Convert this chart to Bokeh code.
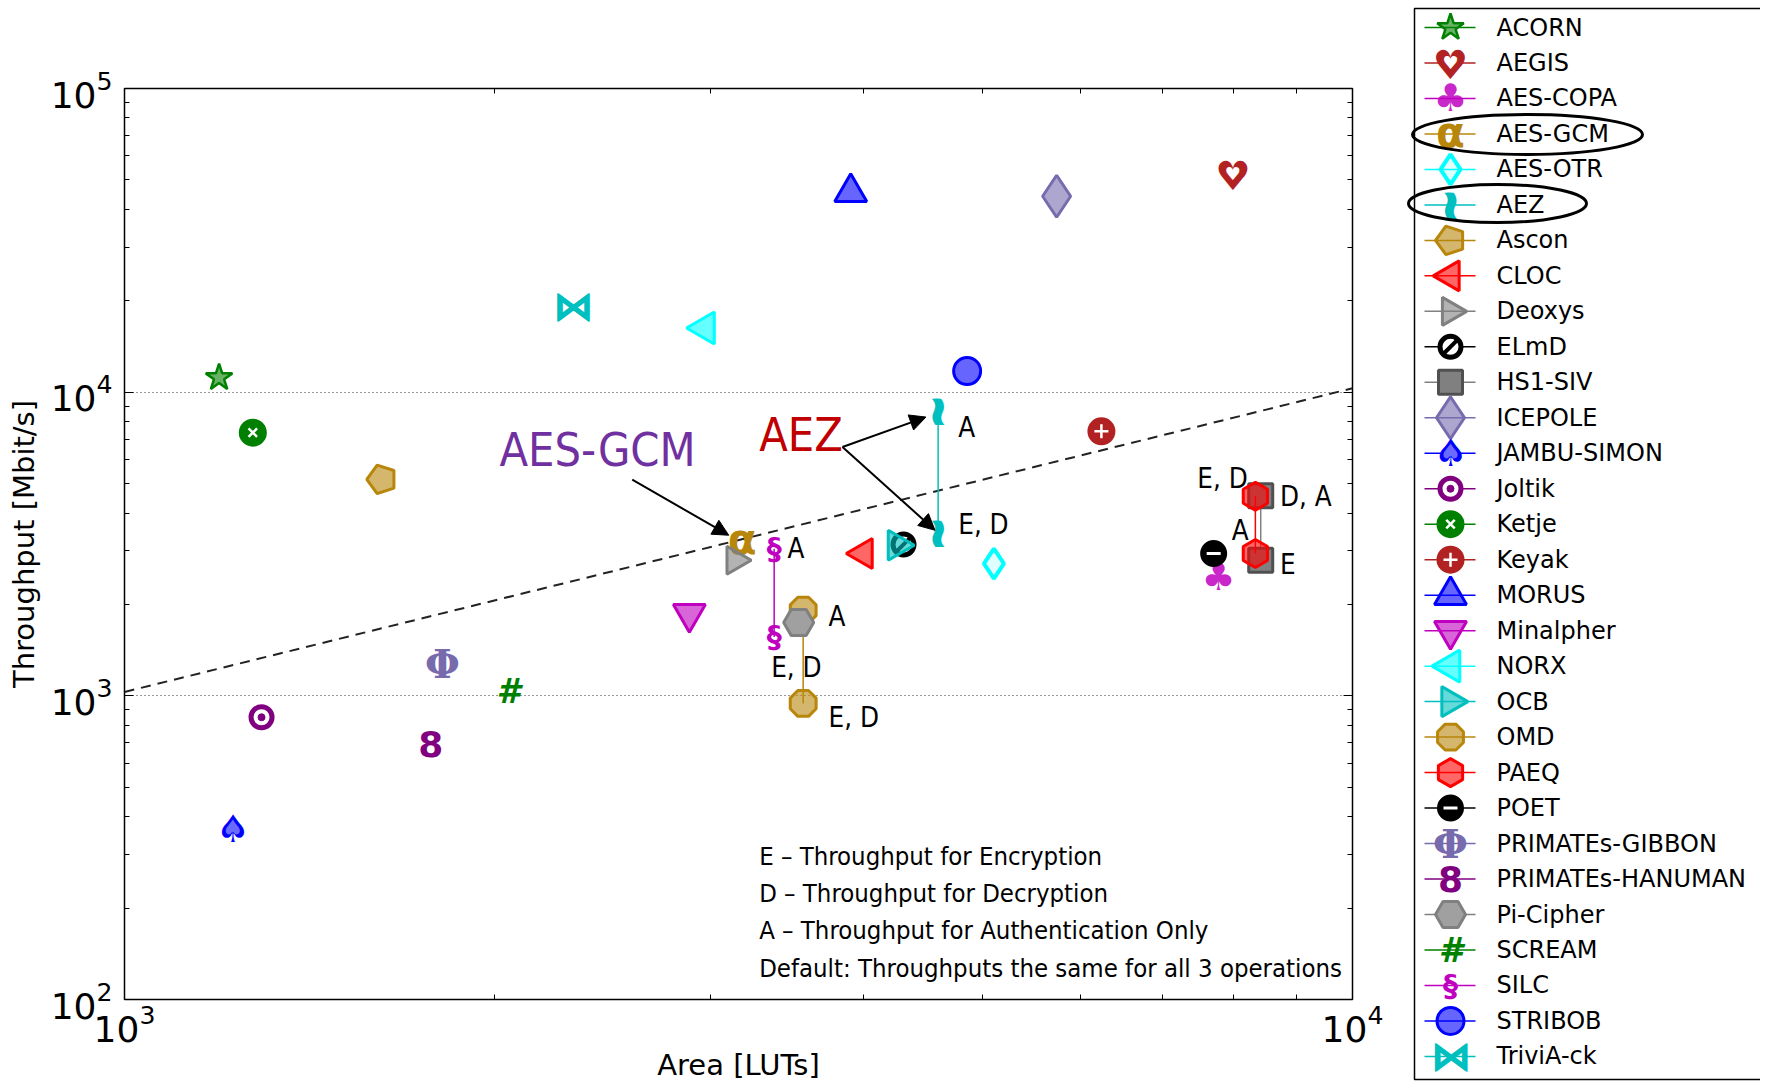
import numpy as np
import bokeh.models as bm
from bokeh.plotting import figure
from bokeh.models import (Range1d, FixedTicker, LogTickFormatter, LogAxis, Arrow,
                          NormalHead)
from bokeh.layouts import row
from bokeh.core.properties import value
from bokeh.embed import file_html
from bokeh.resources import INLINE

# ------------------------------------------------------------------ data
schemes = ["ACORN", "AEGIS", "AES-COPA", "AES-GCM", "AES-OTR", "AEZ", "Ascon", "CLOC",
           "Deoxys", "ELmD", "HS1-SIV", "ICEPOLE", "JAMBU-SIMON", "Joltik", "Ketje",
           "Keyak", "MORUS", "Minalpher", "NORX", "OCB", "OMD", "PAEQ", "POET",
           "PRIMATEs-GIBBON", "PRIMATEs-HANUMAN", "Pi-Cipher", "SCREAM", "SILC",
           "STRIBOB", "TriviA-ck"]
area_luts = [1194, 7990, 7778, 3184, 5105, 4598, 1620, 3998,
             3142, 4309, 8419, 5742, 1225, 1293, 1272,
             6245, 3903, 2884, 2970, 4256, 3570, 8335, 7708,
             1815, 1776, 3540, 2054, 3381,
             4855, 2317]
throughput = [11160, 52360, 2464, 3253, 2727, 8670, 5164, 2942,
              2796, 3150, 4560, 44180, 363, 850, 7357,
              7430, 45530, 1862, 16270, 3133, 1914, 4541, 2942,
              1280, 693, 1744, 1039, 3050,
              11733, 19200]
# schemes whose throughput differs between operations: second operating point
split_schemes = ["AEZ", "HS1-SIV", "OMD", "PAEQ", "SILC"]
split_throughput = [3439, 2796, 944, 2942, 1563]

# operation labels next to the points
op_labels = ["A", "E, D", "A", "E, D", "A", "E, D", "E, D", "D, A", "A", "E"]
op_label_area = [4775, 4775, 3467, 3362, 3744, 3744, 7476, 8730, 7974, 8730]
op_label_tp = [7211, 3465, 2889, 1169, 1730, 801, 4898, 4296, 3297, 2559]

# reference line (throughput proportional to area)
ref_area = [1000, 10000]
ref_tp = [1030, 10300]

# call-outs
callout_text = ["AES-GCM", "AEZ"]
callout_area = [2020, 3287]
callout_tp = [5700, 6401]
callout_color = ["#7030A0", "#C00000"]
arrow_start_area = [2591, 3843, 3843]
arrow_start_tp = [5154, 6597, 6597]
arrow_end_area = [3105, 4494, 4571]
arrow_end_tp = [3380, 8279, 3510]

notes = ["E \u2013 Throughput for Encryption",
         "D \u2013 Throughput for Decryption",
         "A \u2013 Throughput for Authentication Only",
         "Default: Throughputs the same for all 3 operations"]
notes_area = [3287, 3287, 3287, 3287]
notes_tp = [281.5, 212.7, 160.7, 120.5]

x_ticks = [1e3, 1e4]
x_minor = [2e3, 3e3, 4e3, 5e3, 6e3, 7e3, 8e3, 9e3]
y_ticks = [1e2, 1e3, 1e4, 1e5]
y_minor = [m * d for d in (1e2, 1e3, 1e4) for m in range(2, 10)]

# ------------------------------------------------------------------ styles
M = "#BF00BF"; C = "#00BFBF"; DG = "#B8860B"; FB = "#B22222"; SL = "#776BAE"
NARROW = "DejaVu Sans Condensed"
HAS_NGON = hasattr(bm, "Ngon")


def sc(marker, color, size, fill=None, fa=0.6, lw=3, angle=0.0):
    return ("scatter", dict(marker=marker, size=size, line_color=color,
                            fill_color=fill if fill is not None else color,
                            fill_alpha=fa, line_width=lw, angle=angle))


def tx(ch, color, fs, font="DejaVu Sans", style="bold", alpha=1.0, dy=0, dx=0):
    return ("text", dict(ch=ch, color=color, fs=fs, font=font, style=style,
                         alpha=alpha, dy=dy, dx=dx))


def ng(n, color, r, angle=0.0, fa=0.6):
    return ("ngon", dict(n=n, color=color, r=r, angle=angle, fa=fa))


STY = {
    "ACORN": [sc("star", "green", 28, lw=2.5)],
    "AEGIS": [tx("\u2665", FB, 40, dy=2), tx("\u2665", "white", 18, dy=0)],
    "AES-COPA": [tx("\u2663", M, 38, alpha=0.85)],
    "AES-GCM": [tx("\u03b1", DG, 42, dy=-1)],
    "AES-OTR": [sc("diamond", "cyan", 30, fa=0.12, lw=4)],
    "AEZ": [tx("\u2240", C, 42, dx=-2), tx("\u2240", C, 42, dx=0),
            tx("\u2240", C, 42, dx=2)],
    "Ascon": [ng(5, DG, 15, angle=np.pi / 2)],
    "CLOC": [sc("triangle", "red", 30, angle=np.pi / 2)],
    "Deoxys": [sc("triangle", "gray", 28, angle=-np.pi / 2)],
    "ELmD": [sc("circle", "black", 21, fill="white", fa=1, lw=5),
             sc("dash", "black", 21, lw=4, angle=np.pi / 4)],
    "HS1-SIV": [sc("square", "#505050", 24, fill="#808080", fa=1)],
    "ICEPOLE": [sc("diamond", SL, 42)],
    "JAMBU-SIMON": [tx("\u2660", "blue", 38), tx("\u2660", "#6A6AFF", 24)],
    "Joltik": [sc("circle", "purple", 21, fill="white", fa=1, lw=5),
               sc("circle", "purple", 7, fa=1, lw=1)],
    "Ketje": [sc("circle", "green", 26, fa=1, lw=2),
              sc("x", "white", 12, lw=2.5)],
    "Keyak": [sc("circle", FB, 26, fa=1, lw=2),
              sc("cross", "white", 14, lw=2.5)],
    "MORUS": [sc("triangle", "blue", 32)],
    "Minalpher": [sc("inverted_triangle", M, 32)],
    "NORX": [sc("triangle", "cyan", 32, angle=np.pi / 2)],
    "OCB": [sc("triangle", C, 30, angle=-np.pi / 2)],
    "OMD": [ng(8, DG, 14, angle=np.pi / 8)],
    "PAEQ": [sc("hex", "red", 28, angle=np.pi / 2)],
    "POET": [sc("circle", "black", 25, fa=1, lw=2),
             sc("dash", "white", 14, lw=3)],
    "PRIMATEs-GIBBON": [tx("\u03a6", SL, 40, font="DejaVu Serif")],
    "PRIMATEs-HANUMAN": [tx("8", "purple", 36, font="DejaVu Sans")],
    "Pi-Cipher": [sc("hex", "gray", 30, fill="#A0A0A0", fa=1)],
    "SCREAM": [tx("#", "green", 34, style="bold italic")],
    "SILC": [tx("\u00a7", M, 30, dy=0)],
    "STRIBOB": [sc("circle", "blue", 27)],
    "TriviA-ck": [tx("\u22c8", C, 40), tx("\u22c8", C, 40, dx=1)],
}
LINE_COLOR = {"AEZ": C, "HS1-SIV": "#808080", "OMD": DG, "PAEQ": "red", "SILC": M,
              "AES-OTR": "cyan", "ICEPOLE": SL, "PRIMATEs-GIBBON": SL}


def base_color(name):
    if name in LINE_COLOR:
        return LINE_COLOR[name]
    kind, kw = STY[name][0]
    return kw["line_color"] if kind == "scatter" else kw["color"]


def draw_marker(fig, xs, ys, name):
    n = len(xs)
    for kind, kw in STY[name]:
        if kind == "scatter":
            fig.scatter(x=xs, y=ys, **kw)
        elif kind == "text":
            fig.text(x=xs, y=ys, text=[kw["ch"]] * n, text_align="center",
                     text_baseline="middle", text_font=value(kw["font"]),
                     text_font_size=f'{kw["fs"]}px', text_font_style=kw["style"],
                     text_color=kw["color"], text_alpha=kw["alpha"],
                     y_offset=kw["dy"], x_offset=kw["dx"])
        elif kind == "ngon":
            if HAS_NGON:
                fig.ngon(x=xs, y=ys, n=kw["n"], radius=kw["r"], radius_units="screen",
                         angle=kw["angle"], line_color=kw["color"], fill_color=kw["color"],
                         fill_alpha=kw["fa"], line_width=3)
            else:
                fig.scatter(x=xs, y=ys, marker="hex", size=2 * kw["r"],
                            line_color=kw["color"], fill_color=kw["color"],
                            fill_alpha=kw["fa"], line_width=3)


# ------------------------------------------------------------------ main plot
W_MAIN, H_ALL = 1404, 1084
p = figure(x_axis_type="log", y_axis_type="log",
           x_range=Range1d(1e3, 1e4), y_range=Range1d(1e2, 1e5),
           width=W_MAIN, height=H_ALL,
           min_border_left=124, min_border_right=52, min_border_top=88, min_border_bottom=60,
           output_backend="svg", toolbar_location=None)
p.frame_align = False
p.background_fill_color = "white"
p.border_fill_color = "white"
p.outline_line_color = "black"
p.outline_line_width = 1.5

xt = FixedTicker(ticks=x_ticks, minor_ticks=x_minor)
yt = FixedTicker(ticks=y_ticks, minor_ticks=y_minor)


def style_axis(ax, labels=True):
    ax.axis_line_color = None
    ax.major_tick_in = 9
    ax.major_tick_out = 0
    ax.minor_tick_in = 5
    ax.minor_tick_out = 0
    ax.major_tick_line_color = "black"
    ax.minor_tick_line_color = "black"
    if labels:
        ax.major_label_text_font = "DejaVu Sans"
        ax.major_label_text_font_size = "36px"
        ax.major_label_text_color = "black"
        ax.major_label_standoff = 4
        ax.axis_label_text_font = "DejaVu Sans"
        ax.axis_label_text_font_size = "29px"
        ax.axis_label_text_font_style = "normal"
        ax.axis_label_text_color = "black"
    else:
        ax.major_label_text_font_size = "6px"
        ax.major_label_text_color = None
        ax.major_label_standoff = 0


p.xaxis.ticker = xt
p.yaxis.ticker = yt
p.xaxis.formatter = LogTickFormatter()
p.yaxis.formatter = LogTickFormatter()
p.xaxis.axis_label = "Area [LUTs]"
p.yaxis.axis_label = "Throughput [Mbit/s]"
style_axis(p.xaxis[0])
style_axis(p.yaxis[0])
p.yaxis.major_label_standoff = 12
p.xaxis.axis_label_standoff = 3
p.yaxis.axis_label_standoff = 7
for loc, tk in (("above", xt), ("right", yt)):
    ax = LogAxis(ticker=tk)
    style_axis(ax, labels=False)
    p.add_layout(ax, loc)

p.xgrid.visible = False
p.ygrid.ticker = FixedTicker(ticks=[1e3, 1e4])
p.ygrid.grid_line_color = "#333333"
p.ygrid.grid_line_dash = "1 3"
p.ygrid.grid_line_width = 1

# reference line
p.line(ref_area, ref_tp, line_dash="10 7", line_color="#222222", line_width=2)

area_of = dict(zip(schemes, area_luts))
tp_of = dict(zip(schemes, throughput))
split_of = dict(zip(split_schemes, split_throughput))

for name in schemes:
    xs = [area_of[name]]
    ys = [tp_of[name]]
    if name in split_of:
        xs = xs + [area_of[name]]
        ys = ys + [split_of[name]]
        p.line(xs, ys, line_color=base_color(name), line_width=1.5)
    draw_marker(p, xs, ys, name)

# operation labels
p.text(x=op_label_area, y=op_label_tp, text=op_labels, text_font=value(NARROW),
       text_font_size="27.5px", text_color="black", text_baseline="alphabetic",
       text_align="left", y_offset=-8)

# call-outs and arrows
p.text(x=callout_area, y=callout_tp, text=callout_text, text_font=value(NARROW),
       text_font_size="46.5px", text_color=callout_color, text_baseline="alphabetic",
       text_align="left", y_offset=-16)
for xs0, ys0, xe, ye in zip(arrow_start_area, arrow_start_tp, arrow_end_area, arrow_end_tp):
    p.add_layout(Arrow(end=NormalHead(size=16, fill_color="black", line_color="black"),
                       x_start=xs0, y_start=ys0, x_end=xe, y_end=ye,
                       line_color="black", line_width=2))

# notes
p.text(x=notes_area, y=notes_tp, text=notes, text_font=value(NARROW),
       text_font_size="25.5px", text_color="black", text_baseline="alphabetic",
       text_align="left", y_offset=-7)

# ------------------------------------------------------------------ legend panel
LW, LH = 356, H_ALL
lg = figure(width=LW, height=LH, x_range=Range1d(0, LW), y_range=Range1d(0, LH),
            min_border=0, output_backend="svg", toolbar_location=None)
lg.frame_align = False
lg.axis.visible = False
lg.grid.visible = False
lg.outline_line_color = None
lg.background_fill_color = "white"
lg.border_fill_color = "white"

row_top, row_step = 27, 35.48
lg.quad(left=[10], right=[LW + 20], top=[LH - 8], bottom=[LH - 1079],
        fill_color=None, line_color="black", line_width=1.5)
for i, name in enumerate(schemes):
    yy = LH - (row_top + i * row_step)
    lg.line([20, 71], [yy, yy], line_color=base_color(name), line_width=1.5)
    draw_marker(lg, [46], [yy], name)
lg.text(x=[92] * len(schemes),
        y=[LH - (row_top + i * row_step) for i in range(len(schemes))],
        text=schemes, text_font=value("DejaVu Sans"), text_font_size="24px",
        text_color="black", text_baseline="middle", text_align="left")
# highlight ellipses
lg.ellipse(x=[123, 93], y=[LH - 134, LH - 203], width=[230, 178], height=[40, 38],
           fill_color=None, line_color="black", line_width=3)

layout = row(p, lg)
open("out.html", "w").write(file_html(layout, INLINE))
